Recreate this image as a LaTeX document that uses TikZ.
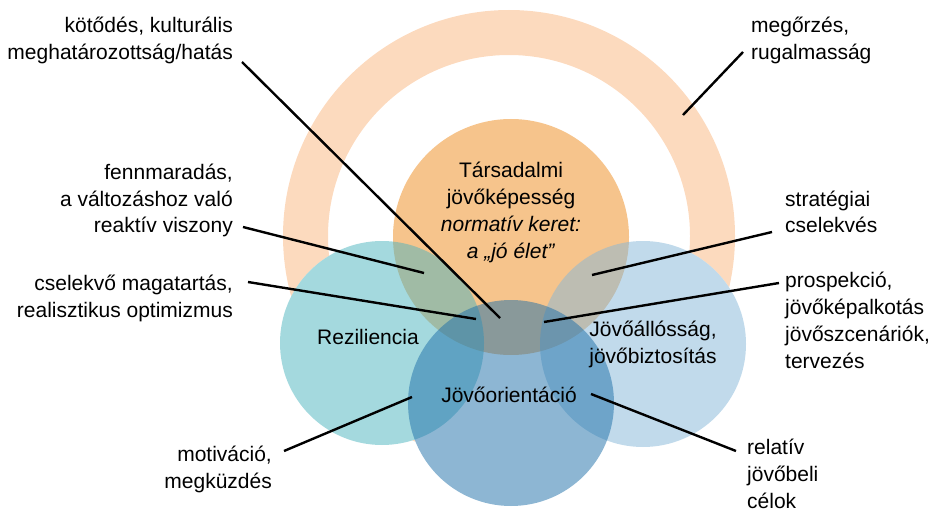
\documentclass[tikz,border=0pt]{standalone}
\usepackage{fontspec}
\setmainfont{Liberation Sans}
\definecolor{ringpeach}{RGB}{252,218,190}
\definecolor{normorange}{RGB}{246,196,140}
\definecolor{rezteal}{RGB}{75,180,190}
\definecolor{allolight}{RGB}{133,183,217}
\definecolor{oriblue}{RGB}{29,111,169}
\begin{document}
\begin{tikzpicture}[
	                  x = 1pt,
	                  y = -1pt,
	      lbl/.style = {inner sep=0pt, font=\fontsize{21}{27}\selectfont},
	    leftlbl/.style = {lbl, align=right, anchor=base east},
	   rightlbl/.style = {lbl, align=left, anchor=base west},
	     midlbl/.style = {lbl, align=center, anchor=base},
	    pointer/.style = {draw=black, line width=2.4pt},
	     venn/.style = {fill opacity=0.5},
	                     ]
		\useasboundingbox (0,0) rectangle (931,513);
		% ring and circles
		\fill[ringpeach, even odd rule] (509,236) circle (226) (509,236) circle (181);
		\fill[white] (382,343) circle (102) (643,344) circle (103) (511,403) circle (103);
		\fill[normorange] (511,237) circle (118);
		\fill[rezteal, venn] (382,343) circle (102);
		\fill[allolight, venn] (643,344) circle (103);
		\fill[oriblue, venn] (511,403) circle (103);
		% circle labels (base = last line)
		\node[midlbl] (tarsadalmi) at (511,258)
		    {Társadalmi\\jövőképesség\\\textit{normatív keret:}\\\textit{a „jó élet”}};
		\node[midlbl] (reziliencia) at (368,344) {Reziliencia};
		\node[midlbl] (allossag) at (653,363) {Jövőállósság,\\jövőbiztosítás};
		\node[midlbl] (orientacio) at (509,402) {Jövőorientáció};
		% outer labels
		\node[leftlbl] (kotodes) at (233,60) {kötődés, kulturális\\meghatározottság/hatás};
		\node[leftlbl] (fennmaradas) at (233,233) {fennmaradás,\\a változáshoz való\\reaktív viszony};
		\node[leftlbl] (cselekvo) at (233,317) {cselekvő magatartás,\\realisztikus optimizmus};
		\node[leftlbl] (motivacio) at (272,488) {motiváció,\\megküzdés};
		\node[rightlbl] (megorzes) at (751,60) {megőrzés,\\rugalmasság};
		\node[rightlbl] (strategiai) at (785,233) {stratégiai\\cselekvés};
		\node[rightlbl] (prospekcio) at (785,368) {prospekció,\\jövőképalkotás\\jövőszcenáriók,\\tervezés};
		\node[rightlbl] (relativ) at (747,508) {relatív\\jövőbeli\\célok};
		% pointer ends
		\coordinate (kotodes-a) at (242,62);     \coordinate (kotodes-b) at (500,318);
		\coordinate (fennmaradas-a) at (243,227); \coordinate (fennmaradas-b) at (424,273);
		\coordinate (cselekvo-a) at (248,282);    \coordinate (cselekvo-b) at (476,319);
		\coordinate (motivacio-a) at (284,451);   \coordinate (motivacio-b) at (412,397);
		\coordinate (megorzes-a) at (743,52);     \coordinate (megorzes-b) at (683,115);
		\coordinate (strategiai-a) at (772,232);  \coordinate (strategiai-b) at (592,275);
		\coordinate (prospekcio-a) at (779,283);  \coordinate (prospekcio-b) at (544,322);
		\coordinate (relativ-a) at (736,451);     \coordinate (relativ-b) at (591,394);
		\foreach \p in {kotodes,fennmaradas,cselekvo,motivacio,megorzes,strategiai,prospekcio,relativ}
		    \draw[pointer] (\p-a) -- (\p-b);
\end{tikzpicture}
\end{document}
